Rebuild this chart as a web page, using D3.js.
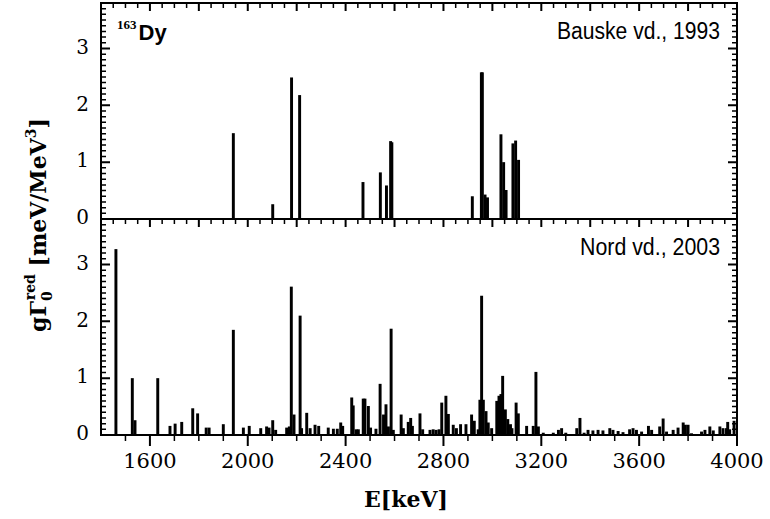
<!DOCTYPE html>
<html><head><meta charset="utf-8">
<script src="https://cdn.jsdelivr.net/npm/d3@7"></script>
<style>
html,body{margin:0;padding:0;background:#fff;}
svg{display:block;}
</style></head>
<body><svg id="c" width="770" height="519"></svg>
<script>
// ---- data ----
const bauskeE = [1941, 2102, 2179, 2212, 2471, 2542, 2567, 2584, 2589, 2918, 2955, 2959, 2970, 2980, 3035, 3046, 3056, 3084, 3095, 3107];
const bauskeG = [1.51, 0.26, 2.49, 2.18, 0.65, 0.82, 0.59, 1.37, 1.35, 0.40, 2.58, 2.58, 0.43, 0.38, 1.49, 1.00, 0.51, 1.33, 1.38, 1.04];

const nordE = [1461,1528,1539,1632,1682,1703,1730,1775,1795,1830,1842,1900,1941,1982,2006,2053,2077,2087,2102,2114,
  2159,2170,2178,2189,2214,2220,2241,2255,2275,2290,2329,2350,2366,2380,2388,2425,2431,2443,2452,2472,
  2479,2493,2502,2524,2541,2555,2565,2575,2586,2595,2627,2636,2656,2666,2673,2704,2715,2745,2758,2770,
  2782,2793,2810,2820,2840,2853,2870,2892,2915,2926,2942,2949,2956,2963,2974,2983,2997,3018,3027,3035,
  3042,3053,3063,3074,3080,3097,3106,3140,3167,3178,3188,3208,3249,3270,3283,3300,3345,3358,3375,3391,
  3411,3432,3452,3480,3493,3514,3534,3561,3575,3589,3610,3638,3651,3684,3698,3712,3739,3759,3780,3789,
  3800,3814,3855,3869,3889,3903,3930,3943,3957,3962,3970,3988];
const nordG = [3.27,1.00,0.26,1.00,0.16,0.20,0.23,0.47,0.38,0.13,0.13,0.19,1.85,0.13,0.16,0.12,0.15,0.13,0.26,0.09,
  0.13,0.15,2.61,0.36,2.10,0.12,0.39,0.12,0.18,0.16,0.13,0.11,0.11,0.22,0.16,0.66,0.52,0.10,0.10,0.64,
  0.64,0.51,0.13,0.11,0.90,0.36,0.54,0.15,1.87,0.09,0.36,0.12,0.23,0.30,0.16,0.38,0.10,0.09,0.10,0.09,
  0.10,0.57,0.69,0.37,0.18,0.12,0.19,0.19,0.36,0.25,0.10,0.62,2.45,0.62,0.42,0.22,0.12,0.60,0.69,0.72,
  1.04,0.45,0.28,0.19,0.12,0.57,0.38,0.16,0.16,1.11,0.15,0.04,0.04,0.09,0.12,0.04,0.12,0.30,0.04,0.09,
  0.08,0.09,0.08,0.12,0.09,0.07,0.05,0.10,0.12,0.09,0.06,0.16,0.09,0.15,0.29,0.06,0.09,0.13,0.22,0.18,
  0.18,0.03,0.06,0.09,0.15,0.08,0.15,0.12,0.12,0.23,0.10,0.25];

const xTicks = [1600, 2000, 2400, 2800, 3200, 3600, 4000];
const yTicks = [0, 1, 2, 3];
const panelLabels = ["Bauske vd., 1993", "Nord vd., 2003"];

// ---- layout ----
const L = 101, R = 737;
const panels = [
  {top: 3, bottom: 219, E: bauskeE, G: bauskeG, label: panelLabels[0], labelW: 163},
  {top: 219, bottom: 435, E: nordE, G: nordG, label: panelLabels[1], labelW: 140}
];
const svg = d3.select("#c");
svg.append("rect").attr("width",770).attr("height",519).attr("fill","#fff");
const x = d3.scaleLinear().domain([1400, 4000]).range([L, R]);
const binHalf = 6;
const tickColor = "#000";

function yTickPath(scale, xPos, vals, len) {
  return vals.map(v => `M${xPos},${scale(v)}h${len}`).join("");
}
function xTickPath(yPos, vals, len) {
  return vals.map(v => `M${x(v)},${yPos}v${len}`).join("");
}

panels.forEach((p, pi) => {
  const y = d3.scaleLinear().domain([0, 3.8]).range([p.bottom, p.top]);
  const g = svg.append("g");
  const data = p.E.map((e, i) => ({e, v: p.G[i]}));
  g.selectAll("rect.bar").data(data).enter().append("rect")
    .attr("class","bar")
    .attr("x", d => x(d.e - binHalf))
    .attr("width", d => x(d.e + binHalf) - x(d.e - binHalf))
    .attr("y", d => y(d.v))
    .attr("height", d => y(0) - y(d.v))
    .attr("fill", "#000");

  g.selectAll("text.yl").data(yTicks).enter().append("text")
    .attr("x", 89).attr("y", d => y(d) - 2).attr("dy", "0.36em")
    .attr("text-anchor","end")
    .style("font-family","'DejaVu Serif', serif").style("font-size","20px")
    .text(d => d);

  g.append("rect").attr("x", L).attr("y", p.top).attr("width", R - L).attr("height", p.bottom - p.top)
    .attr("fill","none").attr("stroke","#000").attr("stroke-width",2);

  const yMinor = d3.range(1, 38).map(i => i / 10).filter(v => Math.abs(v - Math.round(v)) > 1e-6);
  const topMinor = d3.range(1450, 4000, 50).filter(v => v % 200 !== 0);
  const minorD = yTickPath(y, L, yMinor, 5) + yTickPath(y, R, yMinor, -5) + xTickPath(p.top, topMinor, 5);
  const majorD = yTickPath(y, L, yTicks, 9) + yTickPath(y, R, yTicks, -9) + xTickPath(p.top, d3.range(1600, 4000, 200), 8);
  svg.append("path").attr("d", minorD).attr("fill","none").attr("stroke",tickColor).attr("stroke-width",1.5);
  svg.append("path").attr("d", majorD).attr("fill","none").attr("stroke",tickColor).attr("stroke-width",2);

  g.append("text").attr("x", 720).attr("y", p.top + 36)
    .attr("text-anchor","end")
    .attr("textLength", p.labelW).attr("lengthAdjust","spacingAndGlyphs")
    .style("font-family","'Liberation Sans Narrow','Liberation Sans',sans-serif").style("font-size","23px")
    .text(p.label);
});

const yb = 435;
svg.append("path").attr("d", xTickPath(yb, d3.range(1500, 4000, 100).filter(v => v % 400 !== 0), 6))
  .attr("fill","none").attr("stroke",tickColor).attr("stroke-width",1.5);
svg.append("path").attr("d", xTickPath(yb, xTicks, 11))
  .attr("fill","none").attr("stroke",tickColor).attr("stroke-width",2);
svg.selectAll("text.xl").data(xTicks).enter().append("text")
  .attr("x", d => x(d)).attr("y", 468)
  .attr("text-anchor","middle")
  .style("font-family","'DejaVu Serif', serif").style("font-size","21px")
  .text(d => d);

const iso = svg.append("text").attr("x", 117).attr("y", 40);
iso.append("tspan").attr("dy", -11).style("font-family","'Liberation Serif',serif").style("font-weight","bold").style("font-size","13px").text("163");
iso.append("tspan").attr("dy", 11).attr("dx", 2).style("font-family","'Liberation Sans',sans-serif").style("font-weight","bold").style("font-size","22px").text("Dy");

svg.append("text").attr("x", 406).attr("y", 507).attr("text-anchor","middle")
  .style("font-family","'DejaVu Serif',serif").style("font-weight","bold").style("font-size","22px")
  .text("E[keV]");

const yl = svg.append("text").attr("transform","translate(46,225) rotate(-90)")
  .attr("text-anchor","middle")
  .style("font-family","'DejaVu Serif',serif").style("font-weight","bold").style("font-size","22px");
yl.append("tspan").text("gΓ");
yl.append("tspan").attr("dy", 6).style("font-size","14px").text("0");
yl.append("tspan").attr("dx", -9).attr("dy", -17).style("font-size","14px").text("red");
yl.append("tspan").attr("dy", 11).text(" [meV/MeV");
yl.append("tspan").attr("dy", -10).style("font-size","14px").text("3");
yl.append("tspan").attr("dy", 10).text("]");
</script></body></html>
